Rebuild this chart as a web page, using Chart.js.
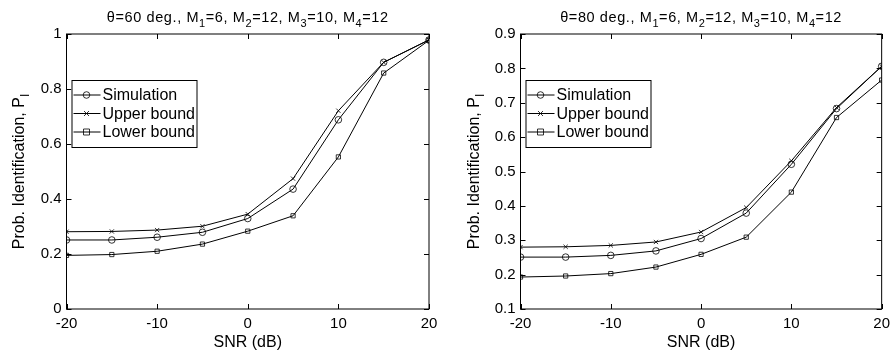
<!DOCTYPE html>
<html>
<head>
<meta charset="utf-8">
<script src="https://cdn.jsdelivr.net/npm/chart.js@4"></script>
<style>
  body { margin: 0; background: #fff; }
  .wrap { display: flex; width: 896px; height: 355px; }
  .box { position: relative; width: 448px; height: 355px; }
</style>
</head>
<body>
<div class="wrap">
  <div class="box"><canvas id="left"></canvas></div>
  <div class="box"><canvas id="right"></canvas></div>
</div>
<script>
// SNR (dB)
const snr = [-20, -15, -10, -5, 0, 5, 10, 15, 20];

// theta = 60 deg
const sim60   = [0.251, 0.251, 0.261, 0.279, 0.329, 0.436, 0.688, 0.897, 0.978];
const upper60 = [0.281, 0.282, 0.287, 0.301, 0.345, 0.474, 0.721, 0.897, 0.979];
const lower60 = [0.195, 0.198, 0.210, 0.236, 0.283, 0.339, 0.553, 0.858, 0.977];

// theta = 80 deg
const sim80   = [0.251, 0.251, 0.256, 0.269, 0.305, 0.379, 0.521, 0.683, 0.806];
const upper80 = [0.280, 0.281, 0.285, 0.295, 0.324, 0.395, 0.531, 0.686, 0.806];
const lower80 = [0.193, 0.196, 0.203, 0.222, 0.259, 0.309, 0.440, 0.657, 0.766];

// ticks
const xTicks = [-20, -10, 0, 10, 20];
const yTicks60 = [0, 0.2, 0.4, 0.6, 0.8, 1];
const yTicks80 = [0.1, 0.2, 0.3, 0.4, 0.5, 0.6, 0.7, 0.8, 0.9];

const seriesNames = ['Simulation', 'Upper bound', 'Lower bound'];
const FONT = '"Liberation Sans", Arial, Helvetica, sans-serif';

//Рисуем текст с нижними индексами
function richText(ctx, parts, x, y, size, align, spacing) {
  const subSize = Math.round(size * 0.75);
  ctx.letterSpacing = (spacing || 0) + 'px';
  let w = 0;
  parts.forEach(p => {
    ctx.font = (p.sub ? subSize : size) + 'px ' + FONT;
    w += ctx.measureText(p.t).width;
  });
  let cx = align === 'center' ? x - w / 2 : x;
  ctx.textBaseline = 'alphabetic';
  ctx.textAlign = 'left';
  parts.forEach(p => {
    ctx.font = (p.sub ? subSize : size) + 'px ' + FONT;
    ctx.fillText(p.t, cx, p.sub ? y + 4.5 : y);
    cx += ctx.measureText(p.t).width;
  });
  ctx.letterSpacing = '0px';
}

function drawMarker(ctx, style, x, y) {
  ctx.beginPath();
  if (style === 'circle') {
    ctx.arc(x, y, 3.3, 0, Math.PI * 2);
  } else if (style === 'rect') {
    ctx.rect(x - 3, y - 3, 6, 6);
  } else {
    ctx.moveTo(x - 2.5, y - 2.5); ctx.lineTo(x + 2.5, y + 2.5);
    ctx.moveTo(x + 2.5, y - 2.5); ctx.lineTo(x - 2.5, y + 2.5);
  }
  ctx.stroke();
}

//Плагин: рамка, внутренние засечки, подписи, легенда
const decor = {
  id: 'decor',
  afterDraw(chart, args, opts) {
    const ctx = chart.ctx;
    const a = chart.chartArea;
    const xs = chart.scales.x, ys = chart.scales.y;
    ctx.save();
    ctx.strokeStyle = '#000';
    ctx.fillStyle = '#000';
    ctx.lineWidth = 1;
    ctx.strokeRect(a.left, a.top, a.right - a.left, a.bottom - a.top);
    const tl = 5;
    ctx.beginPath();
    xTicks.forEach(v => {
      const px = Math.round(xs.getPixelForValue(v)) + 0.5;
      ctx.moveTo(px, a.bottom); ctx.lineTo(px, a.bottom - tl);
      ctx.moveTo(px, a.top); ctx.lineTo(px, a.top + tl);
    });
    opts.yTicks.forEach(v => {
      const py = Math.round(ys.getPixelForValue(v)) + 0.5;
      ctx.moveTo(a.left, py); ctx.lineTo(a.left + tl, py);
      ctx.moveTo(a.right, py); ctx.lineTo(a.right - tl, py);
    });
    ctx.stroke();

    // заголовок
    richText(ctx, opts.title, (a.left + a.right) / 2, 22, 14.5, 'center', 0.6);

    // подпись оси X
    ctx.font = '16px ' + FONT;
    ctx.textAlign = 'center';
    ctx.textBaseline = 'middle';
    ctx.fillText('SNR (dB)', (a.left + a.right) / 2, 343);

    // подпись оси Y
    ctx.save();
    ctx.translate(opts.yTitleX, (a.top + a.bottom) / 2);
    ctx.rotate(-Math.PI / 2);
    richText(ctx, [{ t: 'Prob. Identification, P' }, { t: 'I', sub: true }], 0, 6, 16, 'center', 0);
    ctx.restore();

    // легенда
    const lx = a.left + 5, ly = 80, lw = 125, lh = 67;
    ctx.fillStyle = '#fff';
    ctx.fillRect(lx, ly, lw, lh);
    ctx.strokeStyle = '#000';
    ctx.strokeRect(lx + 0.5, ly + 0.5, lw, lh);
    chart.data.datasets.forEach((ds, i) => {
      const ry = ly + 15 + i * 18.5;
      ctx.strokeStyle = '#000';
      ctx.beginPath();
      ctx.moveTo(lx + 2, ry); ctx.lineTo(lx + 29, ry);
      ctx.stroke();
      ctx.lineWidth = 0.8;
      drawMarker(ctx, ds.pointStyle, lx + 15, ry);
      ctx.lineWidth = 1;
      ctx.fillStyle = '#000';
      ctx.font = '16px ' + FONT;
      ctx.textAlign = 'left';
      ctx.textBaseline = 'middle';
      ctx.fillText(ds.label, lx + 31, ry + 1);
    });
    ctx.restore();
  }
};

function makeDataset(label, ys, style, radius) {
  return {
    label: label,
    data: snr.map((x, i) => ({ x: x, y: ys[i] })),
    borderColor: '#000',
    backgroundColor: 'rgba(0,0,0,0)',
    borderWidth: 1,
    pointStyle: style,
    pointRadius: radius,
    pointBorderWidth: 0.8,
    pointBorderColor: '#000',
    pointBackgroundColor: 'rgba(0,0,0,0)',
    tension: 0
  };
}

function makeChart(id, sim, upper, lower, yMin, yMax, yTicks, title, padRight, yWidth, yTitleX) {
  return new Chart(document.getElementById(id), {
    type: 'line',
    data: {
      datasets: [
        makeDataset(seriesNames[0], sim, 'circle', 3.3),
        makeDataset(seriesNames[1], upper, 'crossRot', 3),
        makeDataset(seriesNames[2], lower, 'rect', 3)
      ]
    },
    options: {
      responsive: false,
      animation: false,
      layout: { padding: { top: 34, right: padRight, left: 0, bottom: 0 } },
      plugins: {
        legend: { display: false },
        tooltip: { enabled: false },
        decor: { title: title, yTicks: yTicks, yTitleX: yTitleX }
      },
      scales: {
        x: {
          type: 'linear',
          min: -20, max: 20,
          afterBuildTicks: s => { s.ticks = xTicks.map(v => ({ value: v })); },
          afterFit: s => { s.height = 46; },
          grid: { display: false, drawTicks: false },
          border: { display: false },
          ticks: { color: '#000', font: { family: FONT, size: 15 }, padding: 6, maxRotation: 0, callback: v => String(v) }
        },
        y: {
          min: yMin, max: yMax,
          afterBuildTicks: s => { s.ticks = yTicks.map(v => ({ value: v })); },
          afterFit: s => { s.width = yWidth; },
          grid: { display: false, drawTicks: false },
          border: { display: false },
          ticks: { color: '#000', font: { family: FONT, size: 15 }, padding: 5, callback: v => String(Number(v.toFixed(2))) }
        }
      }
    },
    plugins: [decor]
  });
}

function sizeCanvas(id) {
  const c = document.getElementById(id);
  c.width = 448; c.height = 355;
  c.style.width = '448px'; c.style.height = '355px';
}
sizeCanvas('left');
sizeCanvas('right');

const sub = t => ({ t: t, sub: true });
const plain = t => ({ t: t });

makeChart('left', sim60, upper60, lower60, 0, 1, yTicks60,
  [plain('\u03B8=60 deg., M'), sub('1'), plain('=6, M'), sub('2'), plain('=12, M'), sub('3'), plain('=10, M'), sub('4'), plain('=12')],
  19, 66.5, 18);
makeChart('right', sim80, upper80, lower80, 0.1, 0.9, yTicks80,
  [plain('\u03B8=80 deg., M'), sub('1'), plain('=6, M'), sub('2'), plain('=12, M'), sub('3'), plain('=10, M'), sub('4'), plain('=12')],
  12, 72.5, 25);
</script>
</body>
</html>
